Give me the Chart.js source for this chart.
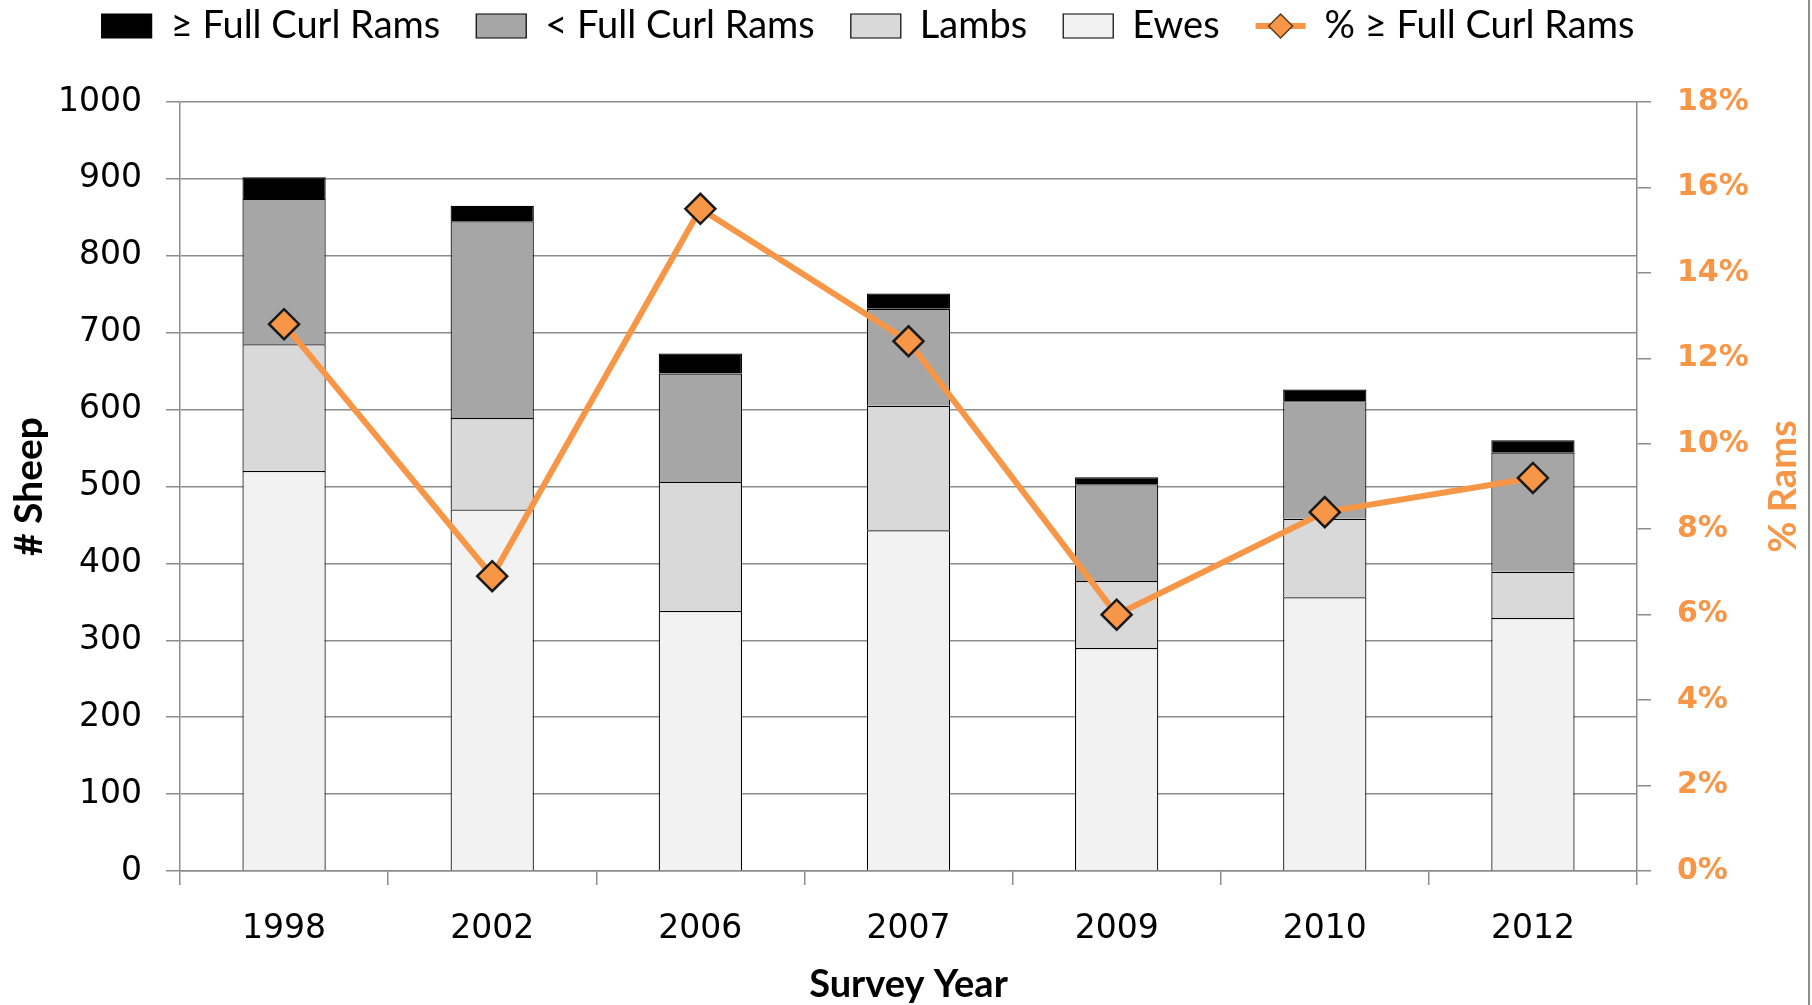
<!DOCTYPE html>
<html>
<head>
<meta charset="utf-8">
<script src="https://cdn.jsdelivr.net/npm/chart.js@4.4.1/dist/chart.umd.min.js"></script>
<style>
html, body { margin: 0; padding: 0; background: #fff; }
#wrap { position: relative; width: 1812px; height: 1005px; }
#edge { position: absolute; right: 2px; top: 0; width: 2px; height: 1005px; background: #8a9286; }
</style>
</head>
<body>
<div id="wrap">
  <canvas id="sheepChart" width="1812" height="1005"></canvas>
  <div id="edge"></div>
</div>
<script>
const years = ['1998', '2002', '2006', '2007', '2009', '2010', '2012'];
const fullCurlRams = [28, 20, 26, 20, 9, 15, 16];
const subFullCurlRams = [189, 256, 141, 126, 126, 153, 155];
const lambs = [165, 119, 168, 162, 87, 102, 60];
const ewes = [520, 470, 338, 443, 290, 356, 329];
const pctFullCurl = [12.8, 6.9, 15.5, 12.4, 6.0, 8.4, 9.2];

const orange = '#f79646';
const gridGrey = '#8c8c8c';
const legendOrder = [3, 2, 1, 0, 4]; // dataset index order in the legend

// draws the line + diamond sample for the % series in the legend
const legendLineSample = {
    id: 'legendLineSample',
    afterDraw(chart) {
        const lg = chart.legend;
        const i = lg.legendItems.findIndex(it => it.datasetIndex === 4);
        if (i < 0) return;
        const hb = lg.legendHitBoxes[i];
        const bw = lg.options.labels.boxWidth;
        const cx = hb.left + bw / 2;
        const cy = hb.top + hb.height / 2;
        const ctx = chart.ctx;
        ctx.save();
        ctx.strokeStyle = orange;
        ctx.lineWidth = 6;
        ctx.beginPath();
        ctx.moveTo(hb.left, cy);
        ctx.lineTo(hb.left + bw, cy);
        ctx.stroke();
        ctx.beginPath();
        ctx.moveTo(cx - 12, cy);
        ctx.lineTo(cx, cy - 12);
        ctx.lineTo(cx + 12, cy);
        ctx.lineTo(cx, cy + 12);
        ctx.closePath();
        ctx.fillStyle = orange;
        ctx.fill();
        ctx.strokeStyle = '#5a3a20';
        ctx.lineWidth = 1.5;
        ctx.stroke();
        ctx.restore();
    }
};

// fixed legend band height, then nudge the legend up and a bit left
const legendBand = {
    id: 'legendBand',
    beforeLayout(chart) {
        const lg = chart.legend;
        if (lg && !lg._fixed) {
            const fit = lg.fit;
            lg.fit = function () { fit.call(this); this.height = 102; };
            lg._fixed = true;
        }
    },
    afterLayout(chart) {
        const lg = chart.legend;
        lg.top -= 29; lg.bottom -= 29;
        lg.left -= 38; lg.right -= 38;
    }
};

// right axis title reads bottom-to-top like the left one
const rightTitle = {
    id: 'rightTitle',
    afterDraw(chart) {
        const ctx = chart.ctx;
        const area = chart.chartArea;
        ctx.save();
        ctx.translate(1784, (area.top + area.bottom) / 2);
        ctx.rotate(-Math.PI / 2);
        ctx.font = 'bold 38px Lato';
        ctx.fillStyle = orange;
        ctx.textAlign = 'center';
        ctx.textBaseline = 'middle';
        ctx.fillText('% Rams', 0, 0);
        ctx.restore();
    }
};

const ctx = document.getElementById('sheepChart').getContext('2d');
new Chart(ctx, {
    data: {
        labels: years,
        datasets: [
            {
                type: 'bar',
                label: 'Ewes',
                data: ewes,
                backgroundColor: '#f2f2f2',
                borderColor: '#000',
                borderWidth: 1.2
            },
            {
                type: 'bar',
                label: 'Lambs',
                data: lambs,
                backgroundColor: '#d9d9d9',
                borderColor: '#000',
                borderWidth: 1.2
            },
            {
                type: 'bar',
                label: '< Full Curl Rams',
                data: subFullCurlRams,
                backgroundColor: '#a6a6a6',
                borderColor: '#000',
                borderWidth: 1.2
            },
            {
                type: 'bar',
                label: '≥ Full Curl Rams',
                data: fullCurlRams,
                backgroundColor: '#000',
                borderColor: '#000',
                borderWidth: 1.2
            },
            {
                type: 'line',
                label: '% ≥ Full Curl Rams',
                data: pctFullCurl,
                yAxisID: 'y1',
                order: -1,
                borderColor: orange,
                borderWidth: 6,
                tension: 0,
                pointStyle: 'rectRot',
                pointRadius: 15,
                pointHoverRadius: 15,
                pointBackgroundColor: orange,
                pointBorderColor: '#1a1a1a',
                pointBorderWidth: 2.5
            }
        ]
    },
    options: {
        responsive: false,
        animation: false,
        layout: { padding: 0 },
        datasets: {
            bar: { barPercentage: 0.4, categoryPercentage: 1, stack: 'sheep' }
        },
        plugins: {
            tooltip: { enabled: false },
            legend: {
                position: 'top',
                align: 'center',
                labels: {
                    font: { family: 'Lato', size: 38 },
                    color: '#000',
                    boxWidth: 50,
                    boxHeight: 24,
                    padding: 36,
                    sort: (a, b) => legendOrder.indexOf(a.datasetIndex) - legendOrder.indexOf(b.datasetIndex),
                    generateLabels(chart) {
                        const items = Chart.defaults.plugins.legend.labels.generateLabels(chart);
                        items.forEach(it => {
                            if (it.datasetIndex === 4) {
                                it.fillStyle = 'rgba(0,0,0,0)';
                                it.strokeStyle = 'rgba(0,0,0,0)';
                                it.lineWidth = 0;
                            }
                        });
                        return items;
                    }
                }
            }
        },
        scales: {
            x: {
                stacked: true,
                offset: true,
                grid: {
                    offset: true,
                    drawOnChartArea: false,
                    drawTicks: true,
                    tickLength: 14,
                    color: gridGrey,
                    lineWidth: 1.5
                },
                border: { display: true, color: gridGrey, width: 1.5 },
                ticks: {
                    font: { family: 'DejaVu Sans', size: 33 },
                    color: '#000',
                    padding: 25
                },
                title: {
                    display: true,
                    text: 'Survey Year',
                    font: { family: 'Lato', size: 38, weight: 'bold', lineHeight: 1 },
                    color: '#000',
                    padding: { top: 4, bottom: 1 }
                },
                afterFit(scale) { scale.height = 134; }
            },
            y: {
                stacked: true,
                position: 'left',
                min: 0,
                max: 1000,
                ticks: {
                    stepSize: 100,
                    callback: v => String(v),
                    font: { family: 'DejaVu Sans', size: 33 },
                    color: '#000',
                    padding: 24
                },
                grid: {
                    color: gridGrey,
                    lineWidth: 1.5,
                    tickLength: 14
                },
                border: { display: true, color: gridGrey, width: 1.5 },
                title: {
                    display: true,
                    text: '# Sheep',
                    font: { family: 'Lato', size: 39, weight: 'bold' },
                    color: '#000',
                    padding: { top: 6, bottom: 0 }
                },
                afterFit(scale) { scale.width = 180; }
            },
            y1: {
                position: 'right',
                min: 0,
                max: 18,
                ticks: {
                    stepSize: 2,
                    callback: v => v + '%',
                    font: { family: 'DejaVu Sans', size: 30, weight: 'bold' },
                    color: orange,
                    padding: 26
                },
                grid: {
                    drawOnChartArea: false,
                    color: gridGrey,
                    lineWidth: 1.5,
                    tickLength: 14
                },
                border: { display: true, color: gridGrey, width: 1.5 },
                title: { display: false },
                afterFit(scale) { scale.width = 175; }
            }
        }
    },
    plugins: [legendBand, legendLineSample, rightTitle]
});
</script>
</body>
</html>
